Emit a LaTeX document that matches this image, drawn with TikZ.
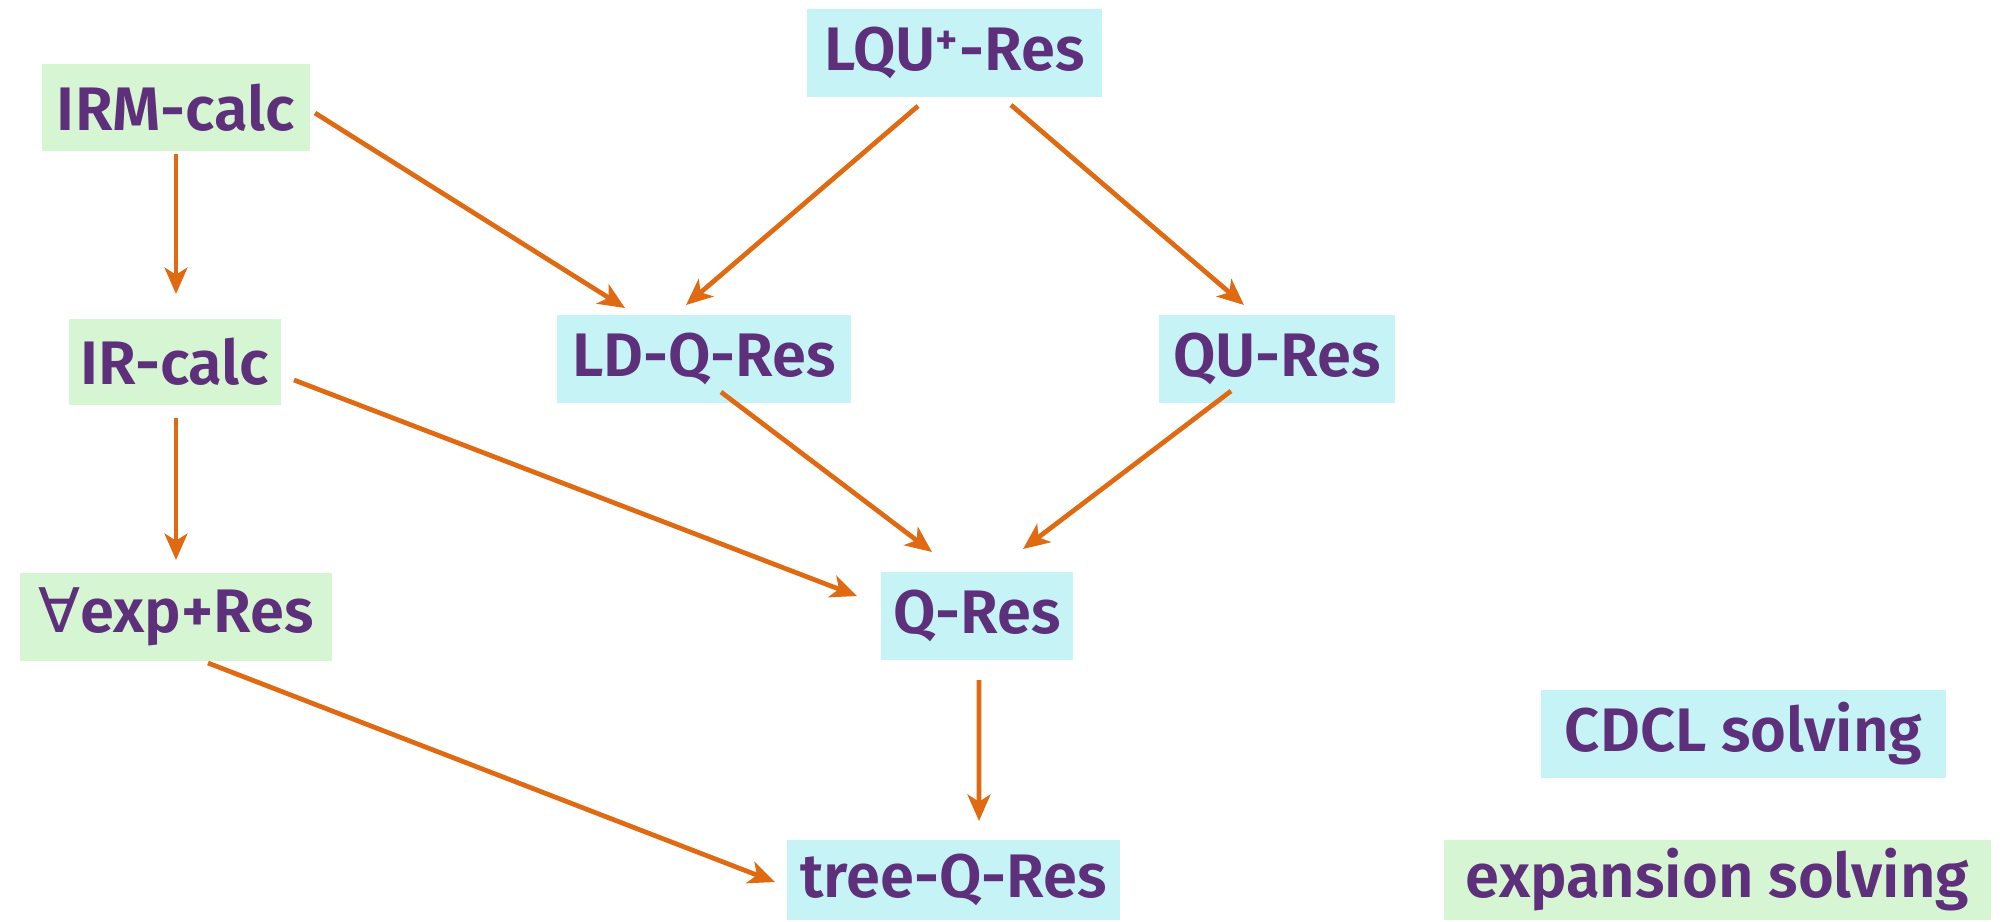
\documentclass[tikz,border=0pt]{standalone}
\usepackage{fontspec}
\setmainfont{Fira Sans}[BoldFont={Fira Sans SemiBold}]
\newfontfamily\symfont{DejaVu Sans}
\usetikzlibrary{arrows.meta,calc}
\definecolor{cdclfill}{HTML}{C6F3F5}
\definecolor{expfill}{HTML}{D6F5D2}
\definecolor{txt}{HTML}{5E2F7A}
\definecolor{arr}{HTML}{E06A12}
\tikzset{
  lbl/.style={rectangle, inner sep=0pt, text=txt, font=\fontsize{35}{40}\selectfont\bfseries},
  cdcl/.style={lbl, fill=cdclfill},
  expn/.style={lbl, fill=expfill},
  edge/.style={draw=arr, line width=2.7pt, -{Stealth[length=15pt,width=13pt,inset=4pt]}},
}
\begin{document}
\begin{tikzpicture}[x=0.02cm,y=-0.02cm]
\useasboundingbox (0,0) rectangle (2011,921);
\node[expn, minimum width=268*0.02cm, minimum height=87*0.02cm] (irm) at (176,107.5) {IRM-calc};
\node[cdcl, minimum width=295*0.02cm, minimum height=88*0.02cm] (lqu) at (954.5,53) {LQU\textsuperscript{+}-Res};
\node[expn, minimum width=212*0.02cm, minimum height=86*0.02cm] (ir) at (175,362) {IR-calc};
\node[cdcl, minimum width=294*0.02cm, minimum height=88*0.02cm] (ldq) at (704,359) {LD-Q-Res};
\node[cdcl, minimum width=236*0.02cm, minimum height=88*0.02cm] (qu) at (1277,359) {QU-Res};
\node[expn, minimum width=312*0.02cm, minimum height=88*0.02cm] (exp) at (176,617) {{\symfont\mdseries ∀}exp+Res};
\node[cdcl, minimum width=192*0.02cm, minimum height=88*0.02cm] (q) at (977,616) {Q-Res};
\node[cdcl, minimum width=333*0.02cm, minimum height=80*0.02cm] (tree) at (953.5,880) {tree-Q-Res};
\node[cdcl, minimum width=405*0.02cm, minimum height=88*0.02cm] (cdclkey) at (1743.5,734) {CDCL solving};
\node[expn, minimum width=547*0.02cm, minimum height=80*0.02cm] (expkey) at (1717.5,880) {expansion solving};

\draw[edge] ($(irm)+(139,5.5)$) -- ($(ldq)+(-79,-51)$);
\draw[edge] ($(irm)+(0,46.5)$) -- ($(ir)+(1,-68)$);
\draw[edge] ($(lqu)+(-36.5,53)$) -- ($(ldq)+(-18,-54)$);
\draw[edge] ($(lqu)+(56.5,52)$) -- ($(qu)+(-33,-54)$);
\draw[edge] ($(ir)+(119,18)$) -- ($(q)+(-120,-20)$);
\draw[edge] ($(ir)+(1,56)$) -- ($(exp)+(0,-57)$);
\draw[edge] ($(ldq)+(17,33)$) -- ($(q)+(-45,-64)$);
\draw[edge] ($(qu)+(-46,32)$) -- ($(q)+(46,-67)$);
\draw[edge] ($(q)+(2,64)$) -- ($(tree)+(25.5,-59)$);
\draw[edge] ($(exp)+(32,46)$) -- ($(tree)+(-178.5,2)$);
\end{tikzpicture}
\end{document}
